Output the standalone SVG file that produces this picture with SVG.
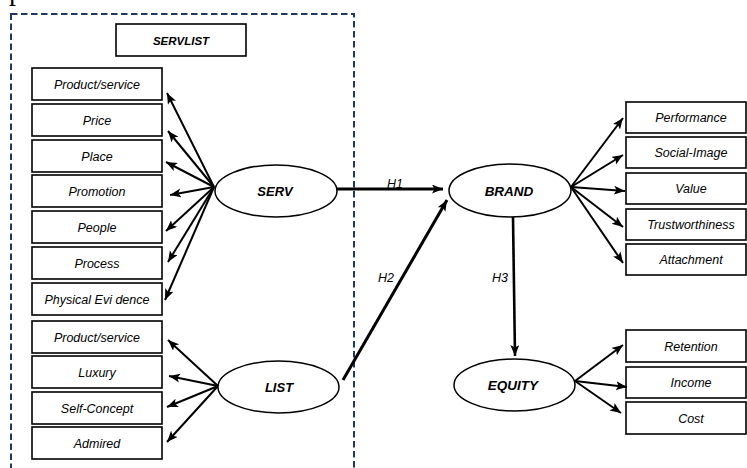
<svg xmlns="http://www.w3.org/2000/svg" width="747" height="468" viewBox="0 0 747 468">
  <defs>
    <marker id="ah" markerUnits="userSpaceOnUse" markerWidth="12" markerHeight="10" refX="11" refY="4.5" orient="auto">
      <path d="M0,0 L11,4.5 L0,9 L2.5,4.5 z" fill="#000"/>
    </marker>
    <style>
      .box { fill: #fff; stroke: #000; stroke-width: 1.6; }
      .ell { fill: #fff; stroke: #000; stroke-width: 1.5; }
      .lbl { font-family: "Liberation Sans", Arial, sans-serif; font-style: italic; font-size: 12.5px; text-anchor: middle; fill: #000; }
      .big { font-family: "Liberation Sans", Arial, sans-serif; font-style: italic; font-weight: bold; font-size: 13px; text-anchor: middle; fill: #000; }
      .hl { font-family: "Liberation Sans", Arial, sans-serif; font-style: italic; font-size: 12.5px; text-anchor: middle; fill: #000; }
      .arr { stroke: #000; stroke-width: 2; fill: none; marker-end: url(#ah); }
      .thick { stroke: #000; stroke-width: 3; fill: none; marker-end: url(#ah); }
    </style>
  </defs>
  <rect width="747" height="468" fill="#fff"/>
  <text x="9" y="0" font-family="'Liberation Serif', 'Times New Roman', serif" font-size="28" fill="#000">p</text>

  <g id="servlist-frame">
    <rect x="11" y="14" width="343" height="470" fill="none" stroke="#1f3864" stroke-width="2" stroke-dasharray="6.5 3.5"/>
  </g>

  <g id="servlist">
    <rect class="box" x="116" y="24" width="130" height="32"/>
    <text class="big" x="181" y="44.5" style="font-size:11.5px">SERVLIST</text>
  </g>

  <g id="serv-items">
    <g id="n-product1"><rect class="box" x="32" y="68" width="130" height="32"/><text class="lbl" x="97" y="89">Product/service</text></g>
    <g id="n-price"><rect class="box" x="32" y="104" width="130" height="32"/><text class="lbl" x="97" y="125">Price</text></g>
    <g id="n-place"><rect class="box" x="32" y="140" width="130" height="32"/><text class="lbl" x="97" y="161">Place</text></g>
    <g id="n-promotion"><rect class="box" x="32" y="175" width="130" height="32"/><text class="lbl" x="97" y="196">Promotion</text></g>
    <g id="n-people"><rect class="box" x="32" y="211" width="130" height="32"/><text class="lbl" x="97" y="232">People</text></g>
    <g id="n-process"><rect class="box" x="32" y="247" width="130" height="32"/><text class="lbl" x="97" y="268">Process</text></g>
    <g id="n-physical"><rect class="box" x="32" y="283" width="130" height="32"/><text class="lbl" x="97" y="304">Physical  Evi dence</text></g>
  </g>

  <g id="list-items">
    <g id="n-product2"><rect class="box" x="32" y="321" width="130" height="32"/><text class="lbl" x="97" y="342">Product/service</text></g>
    <g id="n-luxury"><rect class="box" x="32" y="356" width="130" height="32"/><text class="lbl" x="97" y="377">Luxury</text></g>
    <g id="n-selfconcept"><rect class="box" x="32" y="392" width="130" height="32"/><text class="lbl" x="97" y="413">Self-Concept</text></g>
    <g id="n-admired"><rect class="box" x="32" y="427" width="130" height="32"/><text class="lbl" x="97" y="448">Admired</text></g>
  </g>

  <g id="brand-items">
    <g id="n-performance"><rect class="box" x="626" y="102" width="120" height="31"/><text class="lbl" x="691" y="122">Performance</text></g>
    <g id="n-social"><rect class="box" x="626" y="137" width="120" height="31"/><text class="lbl" x="691" y="157">Social-Image</text></g>
    <g id="n-value"><rect class="box" x="626" y="173" width="120" height="31"/><text class="lbl" x="691" y="193">Value</text></g>
    <g id="n-trust"><rect class="box" x="626" y="209" width="120" height="31"/><text class="lbl" x="691" y="229">Trustworthiness</text></g>
    <g id="n-attach"><rect class="box" x="626" y="244" width="120" height="31"/><text class="lbl" x="691" y="264">Attachment</text></g>
  </g>

  <g id="equity-items">
    <g id="n-retention"><rect class="box" x="626" y="330" width="120" height="32"/><text class="lbl" x="691" y="351">Retention</text></g>
    <g id="n-income"><rect class="box" x="626" y="367" width="120" height="31"/><text class="lbl" x="691" y="387">Income</text></g>
    <g id="n-cost"><rect class="box" x="626" y="402" width="120" height="32"/><text class="lbl" x="691" y="423">Cost</text></g>
  </g>

  <g id="connectors">
    <line class="arr" x1="214" y1="187" x2="167" y2="93"/>
    <line class="arr" x1="214" y1="187" x2="168" y2="131"/>
    <line class="arr" x1="214" y1="187" x2="166" y2="162"/>
    <line class="arr" x1="214" y1="187" x2="170" y2="195"/>
    <line class="arr" x1="214" y1="187" x2="166" y2="231"/>
    <line class="arr" x1="214" y1="187" x2="168" y2="262"/>
    <line class="arr" x1="214" y1="187" x2="165" y2="300"/>

    <line class="arr" x1="218" y1="386" x2="168" y2="340"/>
    <line class="arr" x1="218" y1="386" x2="169" y2="376"/>
    <line class="arr" x1="218" y1="386" x2="167" y2="407"/>
    <line class="arr" x1="218" y1="386" x2="167" y2="442"/>

    <line class="arr" x1="571" y1="187" x2="623" y2="118"/>
    <line class="arr" x1="571" y1="187" x2="623" y2="155"/>
    <line class="arr" x1="571" y1="187" x2="625" y2="191"/>
    <line class="arr" x1="571" y1="187" x2="623" y2="227"/>
    <line class="arr" x1="571" y1="187" x2="623" y2="263"/>

    <line class="arr" x1="575" y1="381" x2="623" y2="345"/>
    <line class="arr" x1="575" y1="381" x2="627" y2="387"/>
    <line class="arr" x1="575" y1="381" x2="621" y2="413"/>

    <line class="thick" x1="337" y1="189" x2="443" y2="189"/>
    <line class="thick" x1="343" y1="380" x2="447" y2="200"/>
    <line class="thick" x1="513" y1="217" x2="515" y2="356" style="stroke-width:2.6"/>
    <text class="hl" x="395" y="188">H1</text>
    <text class="hl" x="386" y="282">H2</text>
    <text class="hl" x="500" y="282">H3</text>
  </g>

  <g id="n-serv"><ellipse class="ell" cx="276" cy="191" rx="61" ry="26"/><text class="big" x="275" y="196">SERV</text></g>
  <g id="n-list"><ellipse class="ell" cx="278.5" cy="387" rx="60.5" ry="26"/><text class="big" x="279" y="392">LIST</text></g>
  <g id="n-brand"><ellipse class="ell" cx="510" cy="190.5" rx="61" ry="26.5"/><text class="big" x="509" y="195.5" style="font-size:13.5px">BRAND</text></g>
  <g id="n-equity"><ellipse class="ell" cx="514.5" cy="385" rx="60.5" ry="26"/><text class="big" x="513" y="390" style="font-size:13.5px">EQUITY</text></g>
</svg>
